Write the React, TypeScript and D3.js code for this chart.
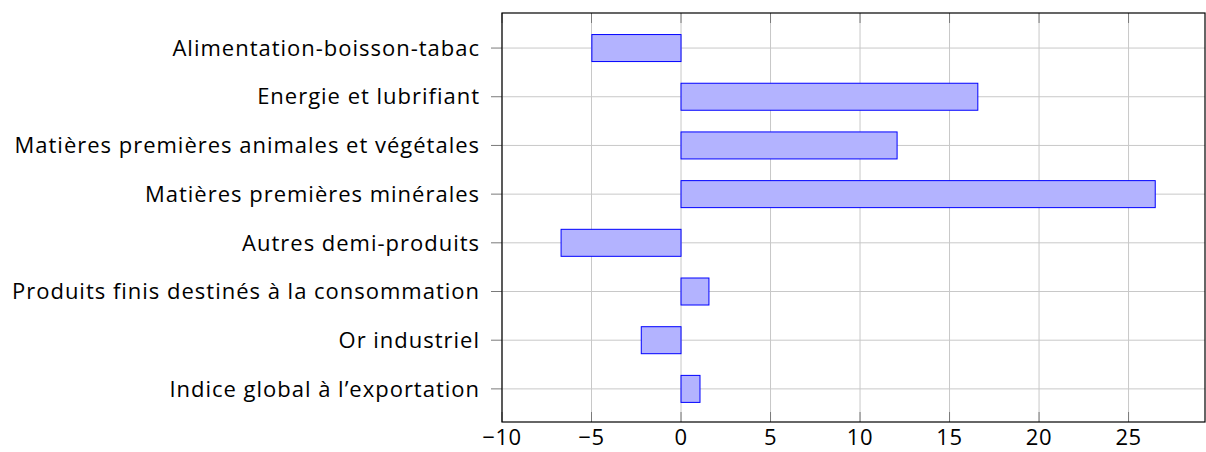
import { useEffect, useRef } from 'react';
import * as d3 from 'd3';

const categories = [
  'Indice global à l’exportation',
  'Or industriel',
  'Produits finis destinés à la consommation',
  'Autres demi-produits',
  'Matières premières minérales',
  'Matières premières animales et végétales',
  'Energie et lubrifiant',
  'Alimentation-boisson-tabac',
];
const values = [1.06, -2.22, 1.56, -6.7, 26.49, 12.07, 16.58, -4.98];
const xTicks = [-10, -5, 0, 5, 10, 15, 20, 25];

export default function App() {
  const ref = useRef<SVGSVGElement | null>(null);

  useEffect(() => {
    const svg = d3.select(ref.current);
    svg.selectAll('*').remove();

    const W = 1206;
    const H = 452;
    const margin = { top: 13, right: 1, bottom: 30, left: 502 };
    const width = W - margin.left - margin.right;
    const height = H - margin.top - margin.bottom;
    const font = '"Open Sans", "DejaVu Sans", sans-serif';

    const x = d3.scaleLinear().domain([-10, 29.27]).range([0, width]);
    const y = d3.scaleLinear().domain([-0.68, 7.72]).range([height, 0]);
    const barH = 27;

    const g = svg.append('g').attr('transform', `translate(${margin.left},${margin.top})`);

    // grid
    g.append('g')
      .selectAll('line')
      .data(xTicks)
      .join('line')
      .attr('x1', d => x(d))
      .attr('x2', d => x(d))
      .attr('y1', 0)
      .attr('y2', height)
      .attr('stroke', '#c8c8c8')
      .attr('stroke-width', 1);

    g.append('g')
      .selectAll('line')
      .data(categories)
      .join('line')
      .attr('x1', 0)
      .attr('x2', width)
      .attr('y1', (_, i) => y(i))
      .attr('y2', (_, i) => y(i))
      .attr('stroke', '#c8c8c8')
      .attr('stroke-width', 1);

    // ticks
    const tk = g.append('g').attr('stroke', '#7a7a7a').attr('stroke-width', 1);
    xTicks.forEach(t => {
      tk.append('line').attr('x1', x(t)).attr('x2', x(t)).attr('y1', 0).attr('y2', 10);
      tk.append('line').attr('x1', x(t)).attr('x2', x(t)).attr('y1', height - 10).attr('y2', height);
    });
    categories.forEach((_, i) => {
      tk.append('line').attr('x1', -11).attr('x2', 0).attr('y1', y(i)).attr('y2', y(i));
    });

    // bars
    g.append('g')
      .selectAll('rect')
      .data(values)
      .join('rect')
      .attr('x', d => x(Math.min(0, d)))
      .attr('width', d => Math.abs(x(d) - x(0)))
      .attr('y', (_, i) => y(i) - barH / 2)
      .attr('height', barH)
      .attr('fill', '#b3b3ff')
      .attr('stroke', '#0000ff')
      .attr('stroke-width', 1);

    // frame
    g.append('rect')
      .attr('width', width)
      .attr('height', height)
      .attr('fill', 'none')
      .attr('stroke', '#000')
      .attr('stroke-width', 1.2);

    // labels
    g.append('g')
      .selectAll('text')
      .data(xTicks)
      .join('text')
      .attr('x', d => x(d))
      .attr('y', height + 23)
      .attr('text-anchor', 'middle')
      .attr('font-family', font)
      .attr('font-size', 22)
      .attr('letter-spacing', 0.6)
      .attr('fill', '#000')
      .text(d => d3.format('d')(d));

    const labels = g.append('g')
      .selectAll('text')
      .data(categories)
      .join('text')
      .attr('x', -22)
      .attr('y', (_, i) => y(i))
      .attr('dy', '0.35em')
      .attr('text-anchor', 'end')
      .attr('font-family', font)
      .attr('font-size', 22)
      .attr('fill', '#000')
      .text(d => d);

    // spread letters so the longest label takes the width it has in the original
    const longest = categories.reduce((a, b) => (b.length > a.length ? b : a));
    const node = labels.nodes().find(n => n.textContent === longest) as SVGTextElement;
    const w = node ? node.getComputedTextLength() : 468;
    const ls = Math.max(0, (468 - w) / longest.length);
    labels.attr('letter-spacing', ls);
  }, []);

  return <svg ref={ref} width={1206} height={452} style={{ position: 'absolute', left: 0, top: 0 }} />;
}
